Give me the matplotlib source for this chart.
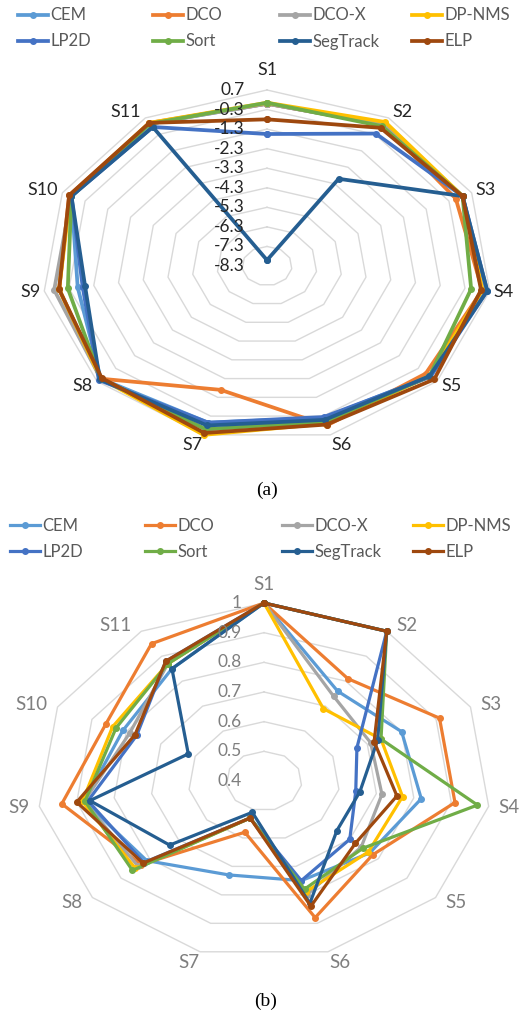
import numpy as np
import matplotlib.pyplot as plt

W, H = 523, 1017
plt.rcParams['font.family'] = ['Lato', 'DejaVu Sans']

cats = ['S1', 'S2', 'S3', 'S4', 'S5', 'S6', 'S7', 'S8', 'S9', 'S10', 'S11']
names = ['CEM', 'DCO', 'DCO-X', 'DP-NMS', 'LP2D', 'Sort', 'SegTrack', 'ELP']
colors = ['#5B9BD5', '#ED7D31', '#A5A5A5', '#FFC000',
          '#4472C4', '#70AD47', '#255E91', '#9E480E']

# chart (a)
a_cem = [0.0, 0.3, 0.3, 0.5, 0.3, -0.2, 0.05, 0.5, -0.65, 0.3, 0.35]
a_dco = [0.0, 0.3, 0.0, 0.4, 0.1, 0.2, -1.7, 0.5, 0.1, 0.4, 0.4]
a_dcox = [0.0, 0.3, 0.3, 0.5, 0.3, 0.0, 0.4, 0.5, 0.3, 0.3, 0.35]
a_dpnms = [0.05, 0.45, 0.3, 0.4, 0.3, 0.1, 0.7, 0.5, 0.1, 0.35, 0.4]
a_lp2d = [-1.55, -0.25, 0.3, 0.6, 0.35, -0.25, 0.05, 0.6, -0.85, 0.3, 0.15]
a_sort = [0.05, 0.2, 0.3, -0.05, 0.3, 0.0, 0.4, 0.5, -0.25, 0.3, 0.35]
a_seg = [-8.0, -3.0, 0.3, 0.6, 0.3, -0.1, 0.2, 0.55, -0.95, 0.3, 0.15]
a_elp = [-0.8, 0.1, 0.3, 0.35, 0.55, 0.15, 0.6, 0.45, 0.1, 0.4, 0.4]
a_ticks = [0.7, -0.3, -1.3, -2.3, -3.3, -4.3, -5.3, -6.3, -7.3, -8.3]

# chart (b)
b_cem = [1.0, 0.76, 0.80, 0.82, 0.77, 0.75, 0.73, 0.81, 0.88, 0.81, 0.85]
b_dco = [1.0, 0.81, 0.91, 0.91, 0.78, 0.88, 0.58, 0.83, 0.94, 0.86, 0.95]
b_dcox = [1.0, 0.74, 0.71, 0.715, 0.74, 0.80, 0.53, 0.84, 0.88, 0.79, 0.87]
b_dpnms = [1.0, 0.69, 0.74, 0.77, 0.765, 0.79, 0.53, 0.85, 0.885, 0.84, 0.87]
b_lp2d = [1.0, 1.0, 0.67, 0.645, 0.70, 0.75, 0.53, 0.82, 0.87, 0.77, 0.88]
b_sort = [1.0, 1.0, 0.74, 0.97, 0.746, 0.78, 0.53, 0.86, 0.878, 0.83, 0.87]
b_seg = [1.0, 1.0, 0.73, 0.656, 0.655, 0.83, 0.51, 0.73, 0.865, 0.62, 0.85]
b_elp = [1.0, 1.0, 0.72, 0.755, 0.72, 0.84, 0.53, 0.823, 0.90, 0.775, 0.88]
b_ticks = [1.0, 0.9, 0.8, 0.7, 0.6, 0.5, 0.4]
b_ticklabels = ['1', '0.9', '0.8', '0.7', '0.6', '0.5', '0.4']

theta = 2 * np.pi * np.arange(len(cats)) / len(cats)


def make_ax(fig, cx, cy, rx, ry, L=1.3):
    # axes box chosen so that radius 1 spans rx, ry pixels around (cx, cy)
    ax = fig.add_axes([(cx - rx * L) / W, 1 - (cy + ry * L) / H,
                       2 * rx * L / W, 2 * ry * L / H])
    ax.set_xlim(-L, L)
    ax.set_ylim(-L, L)
    ax.axis('off')
    return ax


def radar(ax, series, vmin, vmax, ticks, ticklabels, txt_color, gap, top_gap,
          lw, cat_size):
    # polygonal grid rings
    for t in ticks:
        if t == vmin:
            continue
        r = (t - vmin) / (vmax - vmin)
        ax.plot(np.r_[r * np.sin(theta), 0], np.r_[r * np.cos(theta), r],
                color='#D9D9D9', lw=1, zorder=1)
    for t, lab in zip(ticks, ticklabels):
        r = (t - vmin) / (vmax - vmin)
        ax.annotate(lab, (0, r), xytext=(-22, 0), textcoords='offset pixels',
                    ha='right', va='center', fontsize=12.5, color=txt_color,
                    zorder=5)
    for k, c in enumerate(cats):
        s, co = np.sin(theta[k]), np.cos(theta[k])
        if k == 0:
            ha, va, off = 'center', 'bottom', (0, top_gap)
        elif abs(co) > 0.9:
            ha = 'left' if s > 0 else 'right'
            va, off = 'top', (np.sign(s) * 1, -2)
        else:
            ha = 'left' if s > 0 else 'right'
            va, off = 'center', (gap * np.sign(s), 7 * co)
        ax.annotate(c, (s, co), xytext=off, textcoords='offset pixels',
                    ha=ha, va=va, fontsize=cat_size, color=txt_color)
    lines = []
    for vals, col in zip(series, colors):
        r = (np.array(vals) - vmin) / (vmax - vmin)
        x = np.r_[r * np.sin(theta), r[0] * np.sin(theta[0])]
        y = np.r_[r * np.cos(theta), r[0] * np.cos(theta[0])]
        ln, = ax.plot(x, y, color=col, lw=lw, marker='o', ms=4,
                      solid_joinstyle='miter', zorder=3)
        lines.append(ln)
    return lines


def add_legend(fig, lines, col_x, yc):
    # one small legend per column, two rows each, as in the Excel layout
    for j, x0 in enumerate(col_x):
        idx = [j, j + 4]
        fig.legend([lines[i] for i in idx], [names[i] for i in idx],
                   loc='center left', bbox_to_anchor=(x0 / W, 1 - yc / H),
                   frameon=False, fontsize=12, handlelength=1.8,
                   handletextpad=0.15, labelspacing=0.6, borderpad=0,
                   borderaxespad=0, labelcolor='#595959')


fig = plt.figure(figsize=(W / 100, H / 100), dpi=100)

ax_a = make_ax(fig, 267, 266, 225, 176)
lines_a = radar(ax_a, [a_cem, a_dco, a_dcox, a_dpnms, a_lp2d, a_sort, a_seg, a_elp],
                -8.3, 0.7, a_ticks, ['%.1f' % t for t in a_ticks],
                '#262626', 4, 12, 2.7, 13)
add_legend(fig, lines_a, [18, 153, 280, 412], 28.5)
fig.text(267 / W, 1 - 490 / H, '(a)', ha='center', va='center',
         fontsize=14, family='Liberation Serif')

ax_b = make_ax(fig, 264, 781, 227, 178)
lines_b = radar(ax_b, [b_cem, b_dco, b_dcox, b_dpnms, b_lp2d, b_sort, b_seg, b_elp],
                0.4, 1.0, b_ticks, b_ticklabels, '#7F7F7F', 10, 10, 2.3, 13.5)
add_legend(fig, lines_b, [10, 145, 282, 413], 539)
fig.text(266 / W, 1 - 1001 / H, '(b)', ha='center', va='center',
         fontsize=14, family='Liberation Serif')

fig.savefig('out.png', dpi=100)
